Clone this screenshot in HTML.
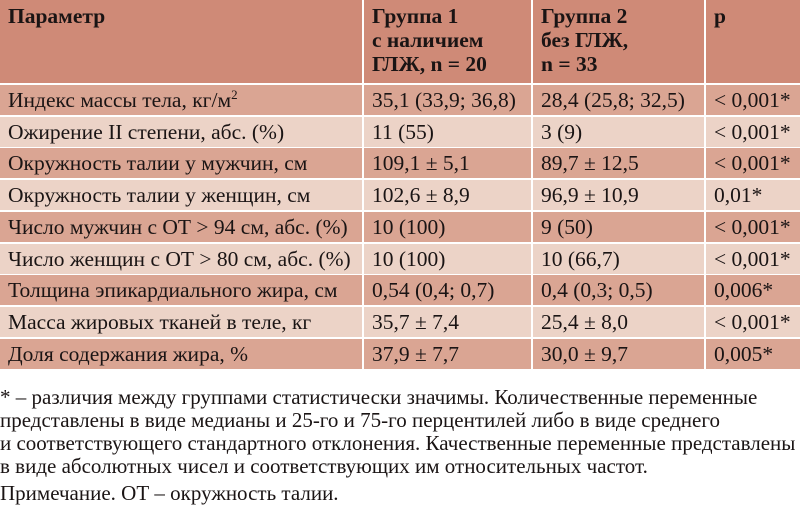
<!DOCTYPE html>
<html><head><meta charset="utf-8"><style>
body{margin:0;width:800px;height:512px;background:#fff;position:relative;overflow:hidden;font-family:"Liberation Serif","DejaVu Serif",serif;color:#1a1414}
.c{position:absolute;box-sizing:border-box;font-size:21.5px;line-height:30px;padding-left:8px;white-space:nowrap;overflow:hidden}
.h{background:#cf8a77;font-weight:bold;line-height:24px;padding-top:4px}
.d{background:#daa593}.l{background:#ecd3c7}
.f{position:absolute;left:0;font-size:21px;white-space:nowrap}
</style></head><body>
<div class="c h" style="left:0;top:0;width:362px;height:83px">Параметр</div>
<div class="c h" style="left:364px;top:0;width:167px;height:83px">Группа 1<br>с наличием<br>ГЛЖ, n = 20</div>
<div class="c h" style="left:533px;top:0;width:171px;height:83px">Группа 2<br>без ГЛЖ,<br>n = 33</div>
<div class="c h" style="left:706px;top:0;width:94px;height:83px">p</div>
<div id="rows"></div>
<script>
var r=[["Индекс массы тела, кг/м<sup style='font-size:13px;vertical-align:8px;line-height:0'>2</sup>","35,1 (33,9; 36,8)","28,4 (25,8; 32,5)","&lt; 0,001*"],
["Ожирение II степени, абс. (%)","11 (55)","3 (9)","&lt; 0,001*"],
["Окружность талии у мужчин, см","109,1 ± 5,1","89,7 ± 12,5","&lt; 0,001*"],
["Окружность талии у женщин, см","102,6 ± 8,9","96,9 ± 10,9","0,01*"],
["Число мужчин с ОТ &gt; 94 см, абс. (%)","10 (100)","9 (50)","&lt; 0,001*"],
["Число женщин с ОТ &gt; 80 см, абс. (%)","10 (100)","10 (66,7)","&lt; 0,001*"],
["Толщина эпикардиального жира, см","0,54 (0,4; 0,7)","0,4 (0,3; 0,5)","0,006*"],
["Масса жировых тканей в теле, кг","35,7 ± 7,4","25,4 ± 8,0","&lt; 0,001*"],
["Доля содержания жира, %","37,9 ± 7,7","30,0 ± 9,7","0,005*"]];
var xs=[[0,362],[364,167],[533,171],[706,94]],h="";
for(var i=0;i<r.length;i++){var t=85+Math.round(i*31.7),cl=i%2?"l":"d";
for(var j=0;j<4;j++)h+='<div class="c '+cl+'" style="left:'+xs[j][0]+'px;top:'+t+'px;width:'+xs[j][1]+'px;height:30px">'+r[i][j]+'</div>';}
document.getElementById("rows").innerHTML=h;
</script>
<div class="f" style="top:386px;line-height:23px">* – различия между группами статистически значимы. Количественные переменные<br>представлены в виде медианы и 25-го и 75-го перцентилей либо в виде среднего<br>и соответствующего стандартного отклонения. Качественные переменные представлены<br>в виде абсолютных чисел и соответствующих им относительных частот.</div>
<div class="f" style="top:482px;line-height:23px">Примечание. ОТ – окружность талии.</div>
</body></html>
